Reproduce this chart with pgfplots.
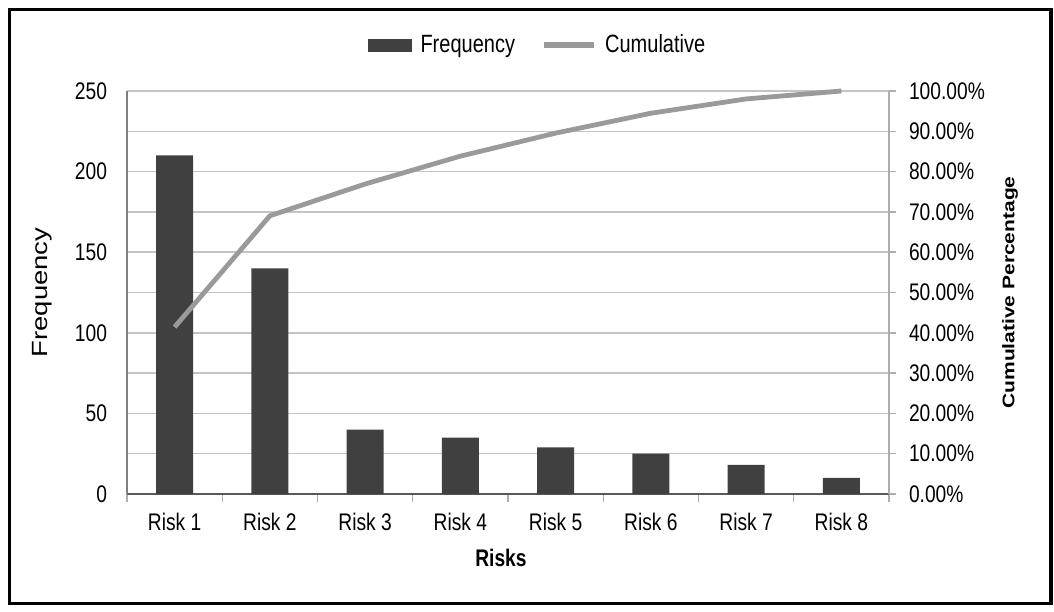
\documentclass[border=0pt]{standalone}
\usepackage{fontspec}
\setmainfont{Liberation Sans}[FakeStretch=0.8]
\newfontfamily\plainsans{Liberation Sans}
\usepackage{graphicx}
\usepackage{pgfplots}
\pgfplotsset{compat=1.18}
\definecolor{cbar}{HTML}{404040}
\definecolor{cline}{HTML}{9A9A9A}
\definecolor{cgrid}{HTML}{C4C4C4}
\definecolor{cleft}{HTML}{808080}
\definecolor{cright}{HTML}{ADADAD}
\definecolor{czero}{HTML}{595959}
\begin{document}
\begin{tikzpicture}
\path (0,0) rectangle (527bp,-306bp);
\draw[line width=1.75bp, black] (4.75bp,-4.75bp) rectangle (525.5bp,-301.75bp);
\pgfplotsset{
 common/.style={
  at={(63.5bp,-247bp)}, anchor=south west,
  width=381bp, height=201.5bp, scale only axis,
  xmin=0.5, xmax=8.5,
  font=\fontsize{12bp}{14bp}\selectfont,
  /pgf/number format/assume math mode=true,
 }}
\begin{axis}[common,
  ymin=0, ymax=250,
  axis x line*=bottom, axis y line*=left,
  x axis line style={draw=czero, line width=1.2bp, -},
  y axis line style={draw=cleft, line width=0.6bp, -},
  xtick={1,2,3,4,5,6,7,8},
  xticklabels={Risk 1,Risk 2,Risk 3,Risk 4,Risk 5,Risk 6,Risk 7,Risk 8},
  minor xtick={0.5,1.5,2.5,3.5,4.5,5.5,6.5,7.5,8.5},
  major tick length=0pt, minor tick length=4bp,
  minor tick style={draw=cright, line width=0.6bp},
  tick align=outside,
  ytick={0,25,50,75,100,125,150,175,200,225,250},
  yticklabels={0,,50,,100,,150,,200,,250},
  ymajorgrids, major grid style={cgrid, line width=0.75bp},
  yticklabel style={xshift=-6.5bp},
  xticklabel style={yshift=-6bp},
  xlabel={\bfseries Risks},
  every axis x label/.style={at={(axis description cs:0.4908,-0.1588)}, anchor=center},
  ylabel={{\plainsans\fontsize{13.75bp}{16bp}\selectfont\scalebox{1}[0.8]{Frequency}}},
  every axis y label/.style={at={(axis description cs:-0.1115,0.5)}, rotate=90, anchor=center},
]
\addplot[ybar, bar width=18.5bp, fill=cbar, draw=none] coordinates {
(1,210) (2,140) (3,40) (4,35) (5,29) (6,25) (7,18) (8,10)};
\end{axis}
\begin{axis}[common,
  ymin=0, ymax=1, clip=false,
  axis x line=none,
  axis y line*=right,
  y axis line style={draw=cright, line width=0.6bp, -},
  ytick={0,0.1,0.2,0.3,0.4,0.5,0.6,0.7,0.8,0.9,1},
  yticklabels={0.00\%,10.00\%,20.00\%,30.00\%,40.00\%,50.00\%,60.00\%,70.00\%,80.00\%,90.00\%,100.00\%},
  major tick length=3.5bp, tick align=outside,
  major tick style={draw=cright, line width=0.75bp},
  yticklabel style={xshift=3bp},
  ylabel={{\plainsans\bfseries\fontsize{10.5bp}{12bp}\selectfont\scalebox{1}[0.8]{Cumulative Percentage}}},
  every axis y label/.style={at={(axis description cs:1.1588,0.5)}, rotate=90, anchor=center},
  legend style={at={(axis description cs:0.54,1.114)}, anchor=center, draw=none, fill=none,
    legend columns=2, font=\fontsize{12.5bp}{14bp}\selectfont,
    /tikz/every odd column/.append style={column sep=2.5bp},
    /tikz/every even column/.append style={column sep=11bp}},
]
\addlegendimage{legend image code/.code={\fill[cbar] (0bp,-3bp) rectangle (21.5bp,3bp);}}
\addlegendentry{Frequency}
\addplot[cline, line width=2.4bp, line join=round,
  legend image code/.code={\draw[cline, line width=2.6bp] (0bp,0bp) -- (25bp,0bp);}] coordinates {
(1,0.4142) (2,0.6903) (3,0.7692) (4,0.8383) (5,0.8955) (6,0.9448) (7,0.9803) (8,1.0)};
\addlegendentry{Cumulative}
\end{axis}
\end{tikzpicture}
\end{document}
